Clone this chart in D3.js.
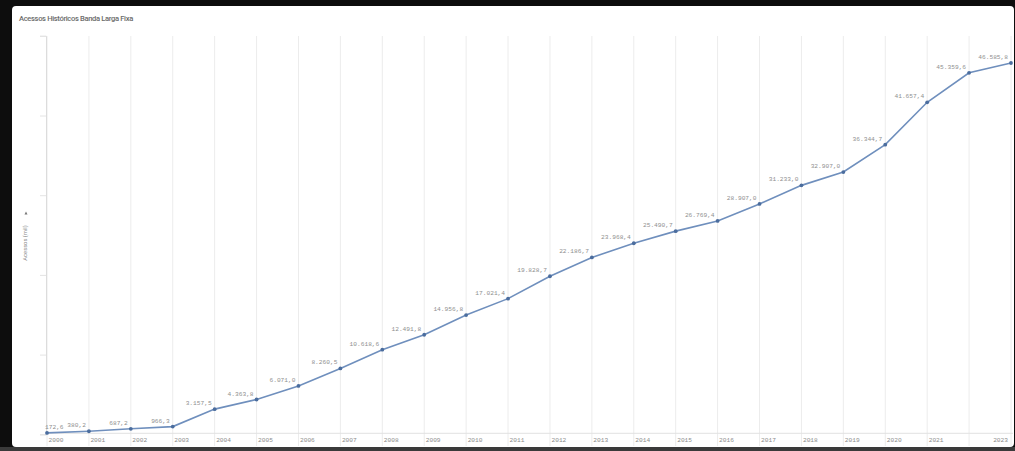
<!DOCTYPE html>
<html>
<head>
<meta charset="utf-8">
<script src="https://cdn.jsdelivr.net/npm/d3@7"></script>
<style>
  html, body { margin: 0; padding: 0; background: #0d0d0d; }
  svg { display: block; }
</style>
</head>
<body>
<svg id="chart" width="1015" height="451"></svg>
<script>
// Acessos históricos de banda larga fixa (mil acessos), 2000–2023
const years = ["2000","2001","2002","2003","2004","2005","2006","2007","2008","2009","2010","2011",
               "2012","2013","2014","2015","2016","2017","2018","2019","2020","2021","2022","2023"];
const acessos = [172.6, 380.2, 687.2, 966.3, 3157.5, 4363.8, 6071.0, 8260.5, 10618.6, 12491.8, 14956.8, 17021.4,
                 19828.7, 22186.7, 23968.4, 25490.7, 26769.4, 28907.0, 31233.0, 32907.0, 36344.7, 41657.4, 45359.6, 46585.8];
// rótulos do eixo X (2022 fica sem rótulo)
const xTickLabels = ["2000","2001","2002","2003","2004","2005","2006","2007","2008","2009","2010","2011",
                     "2012","2013","2014","2015","2016","2017","2018","2019","2020","2021","","2023"];
const yTicks = [0, 10000, 20000, 30000, 40000, 50000];
const chartTitle = "Acessos Históricos Banda Larga Fixa";
const yTitle = "Acessos (mil)";

const W = 1015, H = 451;
const svg = d3.select("#chart");

// moldura escura e painel branco
svg.append("rect").attr("width", W).attr("height", H).attr("fill", "#0d0d0d");
svg.append("rect").attr("x", 0).attr("y", 447).attr("width", W).attr("height", 4).attr("fill", "#3a3a3a");
svg.append("rect").attr("x", 12).attr("y", 6).attr("width", 1002).attr("height", 441)
  .attr("rx", 4).attr("fill", "#ffffff");

const x = d3.scalePoint().domain(years).range([47, 1011]);
const y = d3.scaleLinear().domain([0, 50000]).range([434.3, 35.8]);

const fmt = d3.formatLocale({ decimal: ",", thousands: ".", grouping: [3], currency: ["R$", ""] }).format(",.1f");

// título
svg.append("text")
  .attr("x", 19).attr("y", 21)
  .attr("font-family", "Roboto, sans-serif")
  .attr("font-size", 7.6)
  .attr("font-weight", 500)
  .attr("letter-spacing", -0.35)
  .attr("fill", "#6b6b6b")
  .text(chartTitle);

// grade vertical
svg.append("g").selectAll("line").data(years).join("line")
  .attr("x1", d => x(d)).attr("x2", d => x(d))
  .attr("y1", 36).attr("y2", 446)
  .attr("stroke", "#ececec").attr("stroke-width", 1);

// linha de base
svg.append("line")
  .attr("x1", 46).attr("x2", 1013).attr("y1", y(0) - 1).attr("y2", y(0) - 1)
  .attr("stroke", "#e2e2e2");

// eixo Y (sem rótulos numéricos)
const yAxis = d3.axisLeft(y).tickValues(yTicks).tickSize(6).tickFormat(() => "");
const gy = svg.append("g").attr("transform", "translate(46,0)").call(yAxis);
gy.select(".domain").attr("stroke", "#dcdcdc");
gy.selectAll(".tick line").attr("stroke", "#e4e4e4");

// título do eixo Y
svg.append("text")
  .attr("transform", "translate(27,243) rotate(-90)")
  .attr("text-anchor", "middle")
  .attr("font-family", "Roboto, sans-serif")
  .attr("font-size", 5.8)
  .attr("fill", "#8a8a8a")
  .text(yTitle);
svg.append("path")
  .attr("d", "M24.5,214.5 L27.5,214.5 L26,211.5 Z")
  .attr("fill", "#777");

// rótulos do eixo X
svg.append("g").selectAll("text").data(years).join("text")
  .attr("x", (d, i) => i === years.length - 1 ? x(d) - 3 : x(d) + 1.5)
  .attr("y", 441.5)
  .attr("text-anchor", (d, i) => i === years.length - 1 ? "end" : "start")
  .attr("font-family", "'Liberation Mono', 'DejaVu Sans Mono', monospace")
  .attr("font-size", 6.2)
  .attr("fill", "#8c8c8c")
  .text((d, i) => xTickLabels[i]);

// série
const data = years.map((yr, i) => ({ yr, v: acessos[i] }));
svg.append("path").datum(data)
  .attr("fill", "none")
  .attr("stroke", "#6f8fbd")
  .attr("stroke-width", 1.6)
  .attr("d", d3.line().x(d => x(d.yr)).y(d => y(d.v)));

svg.append("g").selectAll("circle").data(data).join("circle")
  .attr("cx", d => x(d.yr)).attr("cy", d => y(d.v))
  .attr("r", 1.9).attr("fill", "#4b6d9e");

// rótulos de valor
svg.append("g").selectAll("text").data(data).join("text")
  .attr("x", (d, i) => i === 0 ? 45 : x(d.yr) - 3)
  .attr("y", d => y(d.v) - 4)
  .attr("text-anchor", (d, i) => i === 0 ? "start" : "end")
  .attr("font-family", "'Liberation Mono', 'DejaVu Sans Mono', monospace")
  .attr("font-size", 6.2)
  .attr("fill", "#8f8f8f")
  .text(d => fmt(d.v));
</script>
</body>
</html>
